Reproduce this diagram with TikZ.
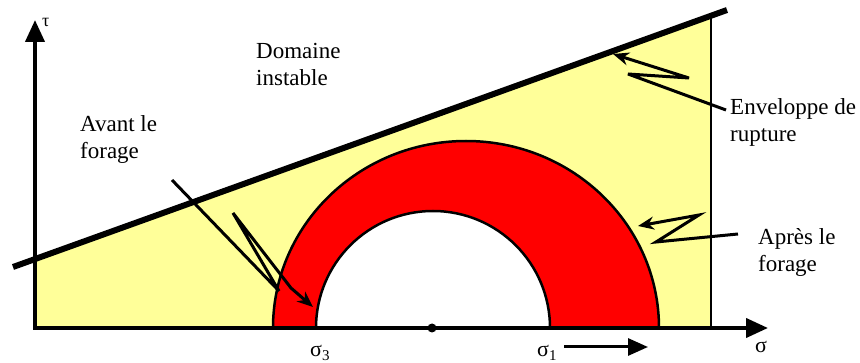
\documentclass[tikz,border=0pt]{standalone}
\usepackage{fontspec}
\setmainfont{Liberation Serif}
\usetikzlibrary{arrows.meta}
\definecolor{paleyellow}{RGB}{255,255,153}
\definecolor{ringred}{RGB}{255,0,0}
\begin{document}
\begin{tikzpicture}[x=1pt,y=-1pt,
  lbl/.style={font=\fontsize{23}{27}\selectfont, inner sep=0pt, align=left, anchor=base west},
  sig/.style={font=\fontsize{22}{24}\selectfont, inner sep=0pt, anchor=base west},
  axisarrow/.style={line width=4pt, -{Triangle[length=22pt,width=19pt]}},
  callout/.style={line width=3pt, line join=miter, miter limit=6, -{Stealth[length=16pt,width=13pt]}},
  outline/.style={line width=2.5pt}
]
\useasboundingbox (0,0) rectangle (860,363);
% stable domain
\fill[paleyellow] (35,259) -- (711,16.4) -- (711,328) -- (35,328) -- cycle;
% Mohr circles
\begin{scope}
  \clip (0,0) rectangle (860,328);
  \fill[ringred] (466,328) ellipse [x radius=193, y radius=187];
  \fill[white] (433,328) circle [radius=117];
  \draw[outline] (466,328) ellipse [x radius=193, y radius=187];
  \draw[outline] (433,328) circle [radius=117];
\end{scope}
\draw[outline] (711,16) -- (711,328);
% axes
\coordinate (origin) at (35,328);
\coordinate (tautip) at (35,20);
\coordinate (sigtip) at (768,328);
\draw[axisarrow] (35,330) -- (tautip);
\draw[axisarrow] (33,328) -- (sigtip);
% envelope
\draw[line width=6pt] (13,267) -- (727,10);
% centre dot
\node[circle, fill=black, inner sep=0pt, minimum size=9pt] (centre) at (432,328) {};
% labels
\node[font=\fontsize{18}{20}\selectfont, inner sep=0pt, anchor=base west] (tau) at (42,27) {τ};
\node[lbl] (dom) at (256,86) {Domaine\\instable};
\node[lbl] (avant) at (80,159) {Avant le\\forage};
\node[lbl] (env) at (730,142) {Enveloppe de\\rupture};
\node[lbl] (apres) at (758,272) {Après le\\forage};
\node[sig] (s3) at (310,357) {σ\raisebox{-4pt}{\fontsize{15}{15}\selectfont 3}};
\node[sig] (s1) at (537,357) {σ\raisebox{-4pt}{\fontsize{15}{15}\selectfont 1}};
\node[sig] (sg) at (755,353) {σ};
% arrow under sigma1
\coordinate (ua) at (564,347);
\coordinate (ub) at (648,347);
\draw[line width=3pt, -{Triangle[length=20pt,width=17pt]}] (ua) -- (ub);
% callouts
\coordinate (e0) at (726,110);
\coordinate (e1) at (628,74);
\coordinate (e2) at (689,78);
\coordinate (e3) at (613,54);
\draw[callout] (e0) -- (e1) -- (e2) -- (e3);
\coordinate (p0) at (738,234);
\coordinate (p1) at (656,242);
\coordinate (p2) at (699,215);
\coordinate (p3) at (638,226);
\draw[callout] (p0) -- (p1) -- (p2) -- (p3);
\coordinate (a0) at (172,180);
\coordinate (a1) at (279,291);
\coordinate (a2) at (233,213);
\coordinate (a2b) at (291,288);
\coordinate (a3) at (313,307);
\draw[callout] (a0) -- (a1) -- (a2) -- (a2b) -- (a3);
\end{tikzpicture}
\end{document}
